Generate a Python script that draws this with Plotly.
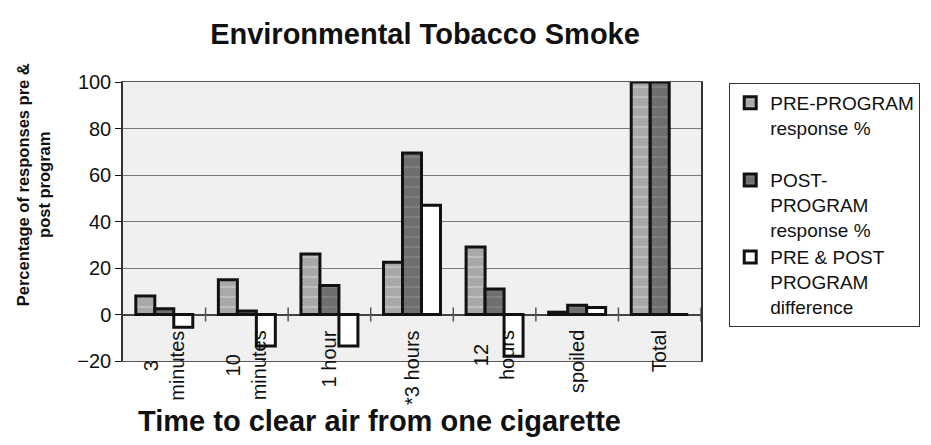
import plotly.graph_objects as go

# Survey categories and tick labels
categories = ["3 minutes", "10 minutes", "1 hour", "*3 hours", "12 hours", "spoiled", "Total"]
tick_labels = ["3<br>minutes", "10<br>minutes", "1 hour", "*3 hours", "12<br>hours", "spoiled", "Total"]

# Response percentages
pre_program = [8, 15, 26, 22.5, 29, 1, 100]
post_program = [2.5, 1.5, 12.5, 69.5, 11, 4, 100]
difference = [-5.5, -13.5, -13.5, 47, -18, 3, 0]

# Category boundaries where the small axis ticks sit
boundaries = [i + 0.5 for i in range(len(categories))]

series_names = [
    "PRE-PROGRAM<br>response %<br> ",
    "POST-<br>PROGRAM<br>response %",
    "PRE & POST<br>PROGRAM<br>difference",
]

FONT = "Arial, 'Liberation Sans', sans-serif"

fig = go.Figure()

fig.add_trace(go.Bar(
    x=categories, y=pre_program, name=series_names[0],
    marker=dict(color="#a9a9a9", line=dict(color="#111111", width=3),
                pattern=dict(shape="-", fgcolor="#e4e4e4", bgcolor="#a9a9a9",
                             size=10, solidity=0.15)),
))
fig.add_trace(go.Bar(
    x=categories, y=post_program, name=series_names[1],
    marker=dict(color="#6f6f6f", line=dict(color="#111111", width=3),
                pattern=dict(shape="-", fgcolor="#9a9a9a", bgcolor="#6f6f6f",
                             size=10, solidity=0.15)),
))
fig.add_trace(go.Bar(
    x=categories, y=difference, name=series_names[2],
    marker=dict(color="#ffffff", line=dict(color="#111111", width=3)),
))

# Small tick marks crossing the zero line between categories
fig.add_trace(go.Scatter(
    x=boundaries, y=[0] * len(boundaries), xaxis="x2", yaxis="y",
    mode="markers", showlegend=False, hoverinfo="skip",
    marker=dict(symbol="line-ns", size=10, line=dict(color="#555555", width=1.5)),
))

# Category labels, rotated and centred line by line
for cat, lab in zip(categories, tick_labels):
    fig.add_annotation(
        x=cat, y=-6, xref="x", yref="y", text=lab, showarrow=False,
        textangle=-90, xanchor="center", yanchor="top", align="center",
        font=dict(family=FONT, size=20, color="#111111"),
    )

# Axis titles
fig.add_annotation(
    x=0.444, y=-0.215, xref="paper", yref="paper",
    text="<b>Time to clear air from one cigarette</b>", showarrow=False,
    xanchor="center", yanchor="middle",
    font=dict(family=FONT, size=29, color="#111111"),
)
fig.add_annotation(
    x=0, y=0.63, xref="paper", yref="paper", xshift=-90,
    text="<b>Percentage of responses pre &<br>post program</b>", showarrow=False,
    textangle=-90, xanchor="center", yanchor="middle", align="center",
    font=dict(family=FONT, size=16.5, color="#111111"),
)

fig.update_layout(
    width=931, height=445,
    margin=dict(l=123, r=229, t=82, b=84),
    paper_bgcolor="#ffffff",
    plot_bgcolor="#f0f0f0",
    barmode="group", bargap=0.31, bargroupgap=0,
    font=dict(family=FONT, color="#111111"),
    title=dict(text="<b>Environmental Tobacco Smoke</b>", x=0.4565, xref="container",
               y=1 - 34 / 445, yref="container", xanchor="center", yanchor="middle",
               font=dict(family=FONT, size=29, color="#111111")),
    showlegend=True,
    legend=dict(x=1.047, xref="paper", y=0.9965, yanchor="top", xanchor="left",
                bordercolor="#333333", borderwidth=1, bgcolor="#ffffff",
                valign="top", font=dict(family=FONT, size=19, color="#111111"),
                traceorder="normal"),
    xaxis=dict(
        showticklabels=False, ticks="", showgrid=False,
        showline=True, mirror=True, linecolor="#555555", linewidth=1,
        range=[-0.5, 6.5], zeroline=False,
    ),
    xaxis2=dict(overlaying="x", anchor="y", visible=False, range=[-0.5, 6.5]),
    yaxis=dict(
        range=[-20, 100], dtick=20, tick0=0,
        ticks="outside", ticklen=6, tickcolor="#111111",
        tickfont=dict(family=FONT, size=20, color="#111111"),
        showgrid=True, gridcolor="#7a7a7a", gridwidth=1,
        zeroline=True, zerolinecolor="#444444", zerolinewidth=1.5,
        showline=True, mirror=True, linecolor="#333333", linewidth=1.5,
    ),
)

fig.write_html("out.html")
